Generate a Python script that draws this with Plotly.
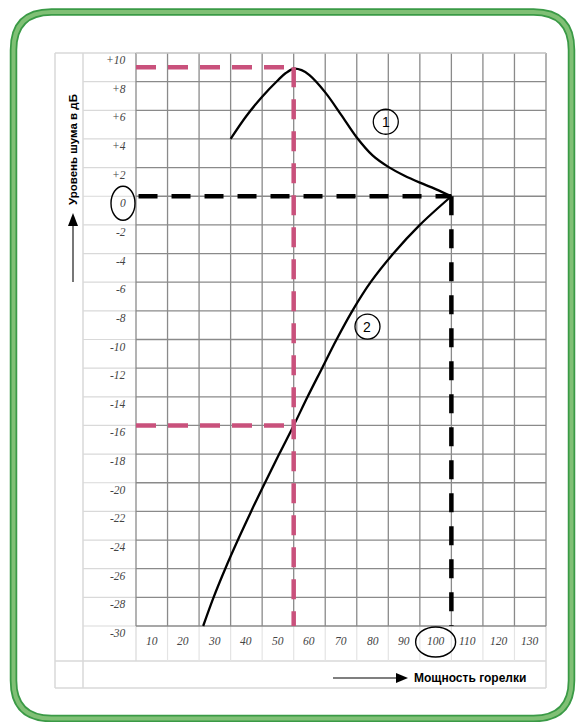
import plotly.graph_objects as go

# ---------------- data ----------------
x_tick_values = [10, 20, 30, 40, 50, 60, 70, 80, 90, 100, 110, 120, 130]
y_tick_values = [10, 8, 6, 4, 2, 0, -2, -4, -6, -8, -10, -12, -14, -16, -18, -20,
                 -22, -24, -26, -28, -30]
y_tick_labels = ["+10", "+8", "+6", "+4", "+2", "0", "-2", "-4", "-6", "-8", "-10",
                 "-12", "-14", "-16", "-18", "-20", "-22", "-24", "-26", "-28", "-30"]

curve1_x = [35, 40, 45, 50, 52.5, 55, 57.5, 60, 65, 70, 75, 80, 85, 90, 95, 100, 105]
curve1_y = [4.0, 5.6, 6.95, 8.1, 8.6, 8.9, 8.8, 8.45, 7.25, 5.7, 4.1, 2.85, 2.05, 1.45,
            0.95, 0.5, 0.0]

curve2_x = [105, 95.0, 86.6, 79.4, 73.6, 68.6, 64.0, 59.4, 55.0, 50.4, 45.9, 41.5,
            37.3, 33.3, 29.6, 26.3]
curve2_y = [0, -2, -4, -6, -8, -10, -12, -14, -16, -18, -20, -22, -24, -26, -28, -30]

peak_x, peak_y = 55, 9          # pink reference
cross_y = -16                   # curve 2 at peak_x
nominal_x, nominal_y = 105, 0   # black reference

curve_labels = ["1", "2"]
curve_label_x = [84.2, 78.4]
curve_label_y = [5.2, -9.1]

x_title = "Мощность горелки"
y_title = "Уровень шума в дБ"

# ---------------- geometry ----------------
W, H = 577, 722
PX0, PX1 = 136, 546
PY0, PY1 = 53, 626
XMIN, XMAX = 5, 135
YMIN, YMAX = -30, 10
sx = (PX1 - PX0) / (XMAX - XMIN)
sy = (PY1 - PY0) / (YMAX - YMIN)


def X(px):
    return XMIN + (px - PX0) / sx


def Y(py):
    return YMAX - (py - PY0) / sy


shapes = []


def line(x0, y0, x1, y1, color, width=1, dash=None, layer="below"):
    d = dict(type="line", x0=x0, y0=y0, x1=x1, y1=y1, xref="x", yref="y",
             line=dict(color=color, width=width), layer=layer)
    if dash:
        d["line"]["dash"] = dash
    shapes.append(d)


def pline(px0, py0, px1, py1, color, width=1):
    line(X(px0), Y(py0), X(px1), Y(py1), color, width)


# green rounded frame
def frame_path(x0, y0, x1, y1, r):
    pts = [
        ("M", [(x0 + r, y0)]), ("L", [(x1 - r, y0)]), ("Q", [(x1, y0), (x1, y0 + r)]),
        ("L", [(x1, y1 - r)]), ("Q", [(x1, y1), (x1 - r, y1)]),
        ("L", [(x0 + r, y1)]), ("Q", [(x0, y1), (x0, y1 - r)]),
        ("L", [(x0, y0 + r)]), ("Q", [(x0, y0), (x0 + r, y0)]),
    ]
    s = ""
    for cmd, ps in pts:
        s += cmd + " " + " ".join(f"{X(a):.4f},{Y(b):.4f}" for a, b in ps) + " "
    return s + "Z"


fp = frame_path(13.5, 12, 571.5, 718.5, 38)
shapes.append(dict(type="path", path=fp, xref="x", yref="y",
                   line=dict(color="#3a9a46", width=7.5), layer="above"))
shapes.append(dict(type="path", path=fp, xref="x", yref="y",
                   line=dict(color="#80c075", width=4), layer="above"))

# light table structure
LG = "#d9d9d9"
pline(55, 53, 546, 53, LG, 1.5)
pline(55, 688, 546, 688, LG, 1.5)
pline(55, 53, 55, 688, LG, 1.5)
pline(546, 626, 546, 688, LG, 1.5)
pline(83, 53, 83, 688, LG, 1.5)
pline(136, 626, 136, 661, LG, 1.2)
pline(55, 661, 546, 661, LG, 1.5)
for v in y_tick_values[1:]:
    line(X(83), v, XMIN, v, LG, 1.2)
for k in range(1, len(x_tick_values)):
    xv = x_tick_values[k] - 5
    line(xv, YMIN, xv, Y(661), "#e4e4e4", 1.2)

# dark grid in plot area
GC = "#8a8a8a"
for k in range(len(x_tick_values) + 1):
    xv = XMIN + 10 * k
    line(xv, YMIN, xv, YMAX, GC, 1.3)
for v in y_tick_values:
    line(XMIN, v, XMAX, v, GC if v != YMAX else "#c8c8c8", 1.3)

# reference dashed lines
PINK = "#c9517c"
line(XMIN, peak_y, peak_x, peak_y, PINK, 4.5, "20px,12px", "above")
line(XMIN, cross_y, peak_x, cross_y, PINK, 4.5, "20px,12px", "above")
line(peak_x, peak_y, peak_x, YMIN, PINK, 4.5, "20px,12px", "above")
line(XMIN + 0.8, nominal_y, nominal_x, nominal_y, "black", 4.5, "19px,14px", "above")
line(nominal_x, nominal_y, nominal_x, YMIN, "black", 4.5, "19px,14px", "above")

# circles around curve numbers
rx, ry = 12.5 / sx, 12.5 / sy
for cx, cy in zip(curve_label_x, curve_label_y):
    shapes.append(dict(type="circle", xref="x", yref="y", x0=cx - rx, x1=cx + rx,
                       y0=cy - ry, y1=cy + ry, line=dict(color="black", width=1.3),
                       layer="above"))

# ellipse around "0" label and "100" label
lab_off = 7 / sy
shapes.append(dict(type="circle", xref="x", yref="y", x0=X(111), x1=X(135),
                   y0=nominal_y - lab_off - 17 / sy, y1=nominal_y - lab_off + 17 / sy,
                   line=dict(color="black", width=1.4), layer="above"))
shapes.append(dict(type="circle", xref="x", yref="y", x0=100 - 20 / sx, x1=100 + 20 / sx,
                   y0=Y(642 + 15), y1=Y(642 - 15),
                   line=dict(color="black", width=1.4), layer="above"))

# arrows
pline(73, 282, 73, 224, "#555555", 1.6)
shapes.append(dict(type="path", xref="x", yref="y",
                   path=f"M {X(73)},{Y(213)} L {X(78)},{Y(226)} L {X(68)},{Y(226)} Z",
                   fillcolor="black", line=dict(width=0), layer="above"))
pline(333, 678, 398, 678, "black", 1.2)
shapes.append(dict(type="path", xref="x", yref="y",
                   path=f"M {X(408)},{Y(678)} L {X(396)},{Y(673)} L {X(396)},{Y(683)} Z",
                   fillcolor="black", line=dict(width=0), layer="above"))

# ---------------- figure ----------------
fig = go.Figure()
fig.add_trace(go.Scatter(x=curve1_x, y=curve1_y, mode="lines",
                         line=dict(color="black", width=2.3, shape="spline", smoothing=1.0),
                         hoverinfo="skip", showlegend=False))
fig.add_trace(go.Scatter(x=curve2_x, y=curve2_y, mode="lines",
                         line=dict(color="black", width=2.3, shape="spline", smoothing=1.0),
                         hoverinfo="skip", showlegend=False))

annotations = []
tick_font = dict(family="Liberation Serif", size=11.5, color="#444444", style="italic")
for v, t in zip(y_tick_values, y_tick_labels):
    annotations.append(dict(x=XMIN, y=v, text=t, showarrow=False, xanchor="right",
                            yanchor="middle", xshift=-8, yshift=-7, font=tick_font))
for v in x_tick_values:
    annotations.append(dict(x=v, y=YMIN, text=str(v), showarrow=False, xanchor="center",
                            yanchor="middle", yshift=-15, font=tick_font))
for t, cx, cy in zip(curve_labels, curve_label_x, curve_label_y):
    annotations.append(dict(x=cx, y=cy, text=t, showarrow=False, xanchor="center",
                            yanchor="middle", font=dict(family="Liberation Sans", size=14,
                                                        color="black")))
annotations.append(dict(x=X(73), y=Y(150), text="<b>" + y_title + "</b>", textangle=-90,
                        showarrow=False, xanchor="center", yanchor="middle",
                        font=dict(family="Liberation Sans", size=11.5, color="black")))
annotations.append(dict(x=X(412), y=Y(678), text="<b>" + x_title + "</b>",
                        showarrow=False, xanchor="left", yanchor="middle",
                        font=dict(family="Liberation Sans", size=12, color="black")))

fig.update_layout(
    width=W, height=H, autosize=False,
    margin=dict(l=0, r=0, t=0, b=0, pad=0),
    paper_bgcolor="white", plot_bgcolor="white",
    xaxis=dict(range=[X(0), X(W)], visible=False, fixedrange=True),
    yaxis=dict(range=[Y(H), Y(0)], visible=False, fixedrange=True),
    shapes=shapes, annotations=annotations, showlegend=False,
)

fig.write_html("out.html", config={"displayModeBar": False},
               post_script="document.body.style.margin='0';")
